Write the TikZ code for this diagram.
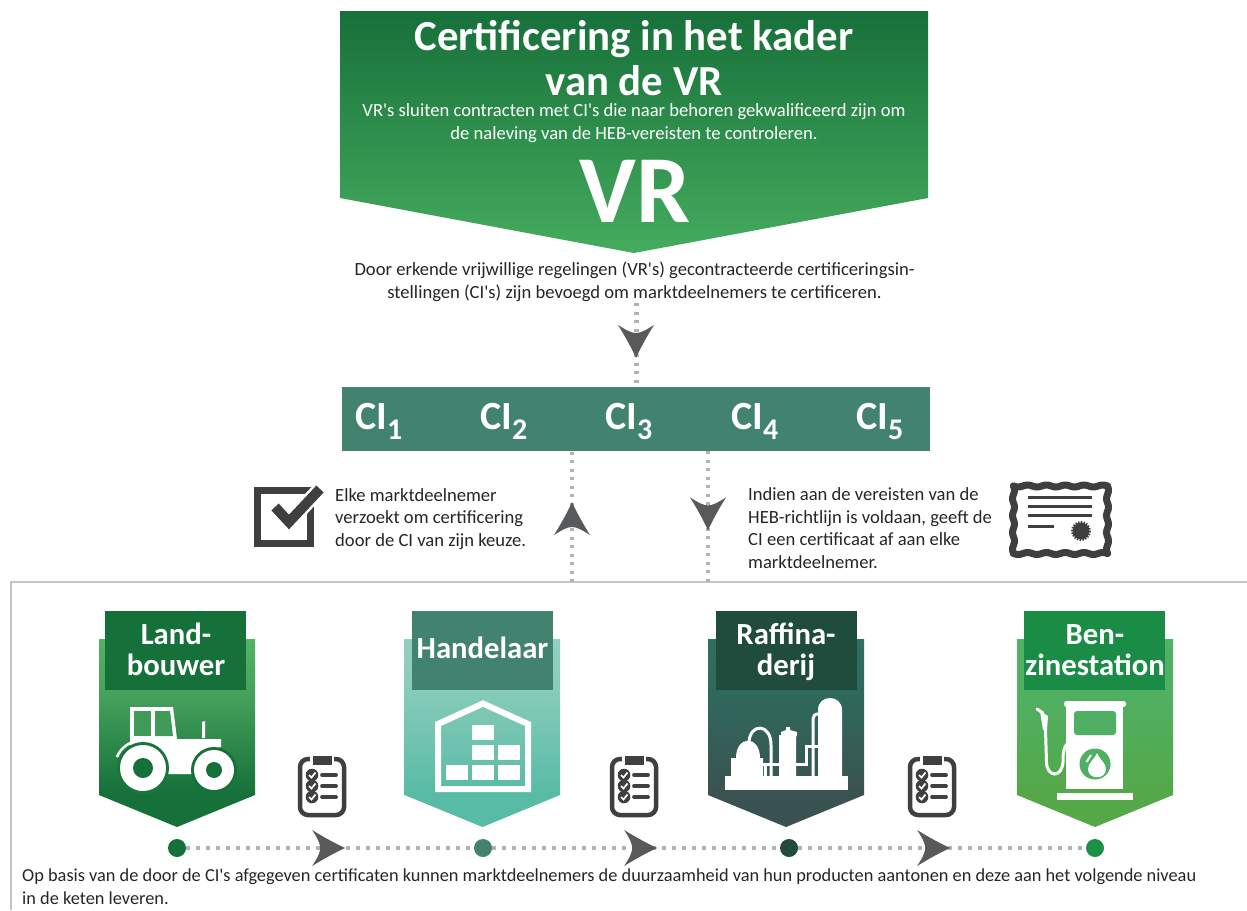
\documentclass[tikz,border=0pt]{standalone}
\usepackage{fontspec}
\setmainfont[Ligatures=TeXOff]{Carlito}
\usetikzlibrary{decorations.markings}
\definecolor{topdark}{HTML}{17703A}
\definecolor{toplight}{HTML}{45AC5E}
\definecolor{teal}{HTML}{41836F}
\definecolor{cA}{HTML}{15703A}
\definecolor{cB}{HTML}{41836F}
\definecolor{cC}{HTML}{204C3D}
\definecolor{cD}{HTML}{1A8C45}
\definecolor{dotA}{HTML}{15703A}
\definecolor{dotD}{HTML}{1A9146}
\definecolor{aT}{HTML}{52B365}\definecolor{aM}{HTML}{47A35C}
\definecolor{bT}{HTML}{93CFC0}\definecolor{bM}{HTML}{87CBB9}\definecolor{bB}{HTML}{57BBA5}
\definecolor{cT}{HTML}{306F60}\definecolor{cM}{HTML}{2E6A5B}\definecolor{cBt}{HTML}{3B5252}
\definecolor{dT}{HTML}{50B266}\definecolor{dM}{HTML}{4FB063}\definecolor{dB}{HTML}{54A848}
\definecolor{dotcol}{HTML}{B2B2B6}
\definecolor{headcol}{HTML}{58595B}
\definecolor{icon}{HTML}{3F3F3F}
\definecolor{ink}{HTML}{262626}
\definecolor{framecol}{HTML}{C4C4C4}
\pgfdeclareverticalshading{shA}{100bp}{color(0bp)=(cA); color(33.5bp)=(cA); color(61.4bp)=(aM); color(75bp)=(aT); color(100bp)=(aT)}
\pgfdeclareverticalshading{shB}{100bp}{color(0bp)=(bB); color(33.5bp)=(bB); color(61.4bp)=(bM); color(75bp)=(bT); color(100bp)=(bT)}
\pgfdeclareverticalshading{shC}{100bp}{color(0bp)=(cBt); color(33.5bp)=(cBt); color(61.4bp)=(cM); color(75bp)=(cT); color(100bp)=(cT)}
\pgfdeclareverticalshading{shD}{100bp}{color(0bp)=(dB); color(33.5bp)=(dB); color(61.4bp)=(dM); color(75bp)=(dT); color(100bp)=(dT)}
\newcommand{\cisub}[1]{CI\raisebox{-10pt}{\fontsize{30}{30}\selectfont #1}}
\tikzset{
  x=1pt,y=-1pt,
  bodytxt/.style={font=\fontsize{18.6}{22.5}\selectfont,text=ink,inner sep=0pt},
  whitetxt/.style={bodytxt,text=white,align=center},
  cardtxt/.style={font=\fontsize{30.7}{31}\selectfont\bfseries,text=white,inner sep=0pt,align=center},
  citxt/.style={font=\fontsize{40}{40}\selectfont\bfseries,text=white,inner sep=0pt,anchor=base west},
  headbox/.style={rectangle,inner sep=0pt,minimum width=141pt,minimum height=79pt,anchor=north},
  dotnode/.style={circle,inner sep=0pt,minimum size=18pt},
  hdots/.style={draw=dotcol,line width=4pt,dash pattern=on 4pt off 6pt},
  vdots/.style={draw=dotcol,line width=4pt,dash pattern=on 3pt off 5.5pt},
  certline/.style={draw=icon,line width=7pt,line cap=round},
  headat/.style={postaction={decorate,decoration={markings,mark=at position #1 with {
     \fill[headcol] (0,0) .. controls (-9,-4) and (-22,-11) .. (-33,-18)
        .. controls (-28,-10) and (-25,-5) .. (-25,0)
        .. controls (-25,5) and (-28,10) .. (-33,18)
        .. controls (-22,11) and (-9,4) .. (0,0) -- cycle;}}}},
  clipb/.pic={
    \draw[icon,line width=4.5pt,rounded corners=8pt] (-22,-27) rectangle (22,29);
    \fill[white] (-12,-31) rectangle (12,-22);
    \fill[icon] (-9.5,-30) rectangle (9.5,-21);
    \foreach \yy in {-11,0,11}{
      \fill[icon] (-10,\yy) circle[radius=6.3];
      \draw[white,line width=1.7pt] (-13,\yy) -- (-10.5,\yy+2.5) -- (-6.5,\yy-2.5);
      \draw[icon,line width=3.7pt,line cap=round] (0,\yy) -- (14,\yy);
    }
  }
}
\begin{document}
\begin{tikzpicture}
\useasboundingbox (0,0) rectangle (1247,910);
\fill[white] (0,0) rectangle (1247,910);
% frame
\coordinate (frameUp) at (572,582);
\coordinate (frameDown) at (708,582);
\draw[framecol,line width=2pt] (11,910) -- (11,582) -- (1247,582);
% top banner
\shade[top color=topdark,bottom color=toplight] (340,11) -- (928,11) -- (928,198) -- (634,253) -- (340,198) -- cycle;
\node[font=\fontsize{42.8}{45}\selectfont\bfseries,text=white,align=center,inner sep=0pt,anchor=base] (title) at (634,95) {Certificering in het kader\\van de VR};
\node[whitetxt,anchor=base] (sub) at (634,139) {VR's sluiten contracten met CI's die naar behoren gekwalificeerd zijn om\\de naleving van de HEB-vereisten te controleren.};
\node[font=\fontsize{96}{96}\selectfont\bfseries,text=white,inner sep=0pt,anchor=base] (vr) at (635,222) {VR};
\node[bodytxt,align=center,anchor=base] (door) at (634.5,298) {Door erkende vrijwillige regelingen (VR's) gecontracteerde certificeringsin-\\stellingen (CI's) zijn bevoegd om marktdeelnemers te certificeren.};
% CI bar
\node[fill=teal,rectangle,inner sep=0pt,minimum width=588pt,minimum height=64pt,anchor=north west] (cibar) at (342,387) {};
\node[citxt] (ci1) at (355,429) {\cisub{1}};
\node[citxt] (ci2) at (480,429) {\cisub{2}};
\node[citxt] (ci3) at (605,429) {\cisub{3}};
\node[citxt] (ci4) at (731,429) {\cisub{4}};
\node[citxt] (ci5) at (856,429) {\cisub{5}};
% vertical connectors
\coordinate (doorEnd) at (636,303);
\draw[vdots,line width=5pt,headat=55pt] (doorEnd) -- (doorEnd |- cibar.north);
\draw[vdots,headat=80pt] (frameUp) -- (frameUp |- cibar.south);
\draw[vdots,headat=79pt] (frameDown |- cibar.south) -- (frameDown);
% side texts
\node[bodytxt,align=left,anchor=base west] (elke) at (335,546) {Elke marktdeelnemer\\verzoekt om certificering\\door de CI van zijn keuze.};
\node[bodytxt,align=left,anchor=base west] (indien) at (748,568) {Indien aan de vereisten van de\\HEB-richtlijn is voldaan, geeft de\\CI een certificaat af aan elke\\marktdeelnemer.};
% checkbox icon
\draw[icon,line width=7pt] (257.5,490.5) rectangle (310.5,543.5);
\draw[white,line width=15pt] (275,507) -- (289,522) -- (320,489);
\draw[icon,line width=10pt] (275,507) -- (289,522) -- (320,489);
% certificate icon
\draw[certline] plot[domain=0:94,samples=70] ({1013.5+\x},{486+sin(\x/18.8*360)});
\draw[certline] plot[domain=0:94,samples=70] ({1013.5+\x},{553.5+sin(\x/18.8*360)});
\draw[certline] plot[domain=0:67.5,samples=50] ({1013.5+sin(\x/16.9*360)},{486+\x});
\draw[certline] plot[domain=0:67.5,samples=50] ({1107.5+sin(\x/16.9*360)},{486+\x});
\foreach \yy in {497.5,506.5,515.5}{\draw[icon,line width=3pt] (1028,\yy) -- (1092,\yy);}
\draw[icon,line width=3pt] (1028,526) -- (1054,526);
\fill[icon] (1081,531) circle[radius=8.5];
\draw[icon,line width=2pt,dash pattern=on 1.4pt off 1.4pt] (1081,531) circle[radius=9];
% cards
\shade[shading=shA] (99,639) -- (255,639) -- (255,795) -- (177,827) -- (99,795) -- cycle;
\shade[shading=shB] (404.5,639) -- (560,639) -- (560,795) -- (482.5,827) -- (404.5,795) -- cycle;
\shade[shading=shC] (708,639) -- (864,639) -- (864,795) -- (786,827) -- (708,795) -- cycle;
\shade[shading=shD] (1017,639) -- (1173,639) -- (1173,795) -- (1095,827) -- (1017,795) -- cycle;
\node[headbox,fill=cA] (h1) at (175.5,611) {};
\node[headbox,fill=cB] (h2) at (482.5,611) {};
\node[headbox,fill=cC] (h3) at (786.5,611) {};
\node[headbox,fill=cD] (h4) at (1094.5,611) {};
\node[cardtxt,anchor=base] (l1) at (176,675) {Land-\\bouwer};
\node[cardtxt,anchor=base] (l2) at (482.5,658) {Handelaar};
\node[cardtxt,anchor=base] (l3) at (786,675) {Raffina-\\derij};
\node[cardtxt,anchor=base] (l4) at (1095,675) {Ben-\\zinestation};
% tractor
\fill[white] (130,707) -- (173,707) -- (177,739) -- (221,739) -- (221,747) -- (200,752) -- (196,774) -- (160,774) -- (130,745) -- cycle;
\fill[white] (202,738) -- (202,722) -- (205,721) -- (205,738) -- cycle;
\fill[aM!85!cA] (134,711) rectangle (151,736);
\fill[aM!85!cA] (155,711) -- (170,711) -- (173,736) -- (155,736) -- cycle;
\fill[cA!90!aM] (143,768) circle[radius=26];
\draw[white,line width=2.5pt] (117,757) .. controls (121,747) and (131,740) .. (144,740);
\fill[white] (143,768) circle[radius=23];
\fill[cA] (143,768) circle[radius=10];
\fill[cA] (214,770) circle[radius=23];
\fill[white] (214,770) circle[radius=20];
\fill[cA] (214,770) circle[radius=8];
% warehouse
\draw[white,line width=6pt,miter limit=10] (438,724) -- (483,703.5) -- (528,724) -- (528,789) -- (438,789) -- cycle;
\foreach \xa/\ya in {446/765,472/765,498/765,472/745,498/745,472/725}{\fill[white] (\xa,\ya) rectangle (\xa+22,\ya+15);}
% refinery
\fill[white] (725,776) rectangle (848,790);
\fill[white] (818,776) -- (818,710) .. controls (818,694) and (842,694) .. (842,710) -- (842,776) -- cycle;
\draw[white,line width=3pt] (813,776) -- (813,722) .. controls (813,715) and (815,714) .. (818,714);
\fill[white] (779,776) -- (779,735) -- (781,735) -- (781,732) -- (786,730) -- (786,727) -- (790,727) -- (790,730) -- (797,732) -- (797,735) -- (796,737) -- (796,776) -- cycle;
\fill[white] (731,776) -- (731,758) -- (736,758) .. controls (736,735) and (760,735) .. (760,758) -- (763,758) -- (763,776) -- cycle;
\draw[white,line width=3pt] (749,742) .. controls (750,723) and (771,723) .. (771,745) -- (771,776);
\draw[white,line width=3pt] (763,764) -- (806,764) -- (806,746) -- (818,746);
\draw[white,line width=3pt] (765,776) -- (765,764);
% pump
\fill[white] (1066,705) rectangle (1123,789);
\fill[white,rounded corners=2.5pt] (1064,701) rectangle (1126,707);
\fill[dM,rounded corners=3pt] (1074,711) rectangle (1116,735);
\fill[dM] (1095,764) circle[radius=15.5];
\fill[white] (1097,753) .. controls (1100,760) and (1106,763) .. (1106,769) .. controls (1106,780) and (1088,780) .. (1088,769) .. controls (1088,763) and (1094,760) .. (1097,753) -- cycle;
\draw[white,line width=2pt] (1091,755) -- (1086.5,762);
\fill[white] (1057,793) rectangle (1133,800);
\draw[white,line width=3pt,line cap=round] (1037,709) -- (1043,713);
\fill[white] (1040,711) -- (1048,716) -- (1047,730) -- (1043,730) -- cycle;
\draw[white,line width=3pt] (1045.5,730) -- (1046.5,762) .. controls (1047,778) and (1062,778) .. (1063,762) .. controls (1063,752) and (1064,747) .. (1067,744);
% clipboards
\pic (cb1) at (322,786) {clipb};
\pic (cb2) at (634,786) {clipb};
\pic (cb3) at (932,786) {clipb};
% bottom chain
\node[dotnode,fill=dotA] (c1) at (177,848) {};
\node[dotnode,fill=cB] (c2) at (483,848) {};
\node[dotnode,fill=cC] (c3) at (789,848) {};
\node[dotnode,fill=dotD] (c4) at (1095,848) {};
\draw[hdots,headat=159pt] (c1) -- (c2);
\draw[hdots,headat=165pt] (c2) -- (c3);
\draw[hdots,headat=152pt] (c3) -- (c4);
\node[bodytxt,align=left,anchor=base west,font=\fontsize{18.33}{22.5}\selectfont] (op) at (22,904) {Op basis van de door de CI's afgegeven certificaten kunnen marktdeelnemers de duurzaamheid van hun producten aantonen en deze aan het volgende niveau\\in de keten leveren.};
\end{tikzpicture}
\end{document}
